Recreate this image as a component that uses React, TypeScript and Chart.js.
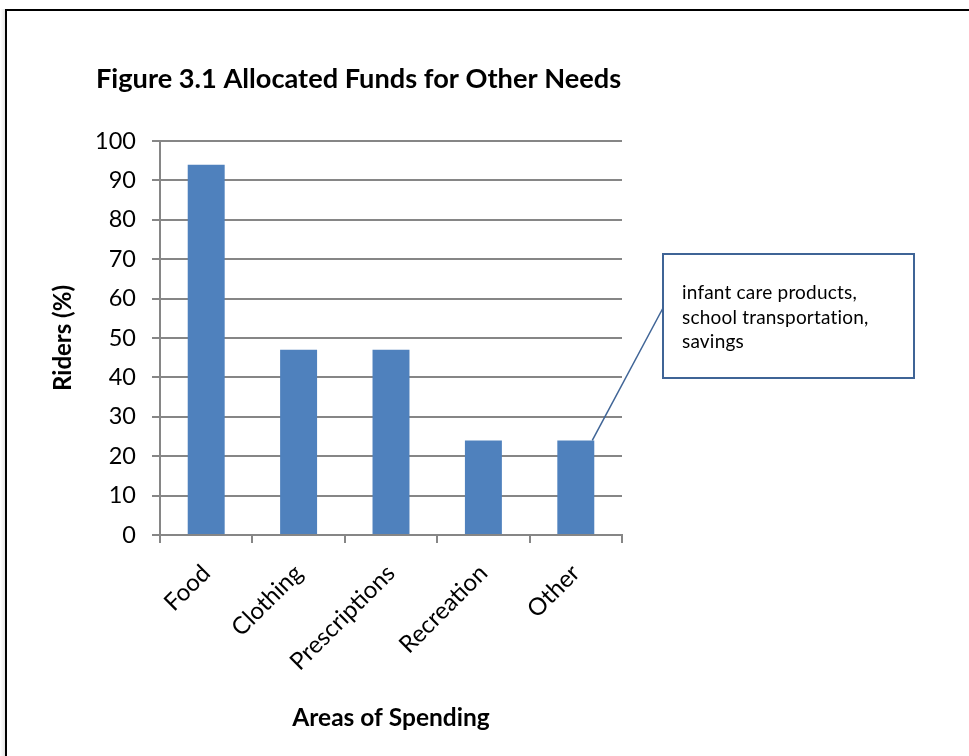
import React, { useEffect, useRef } from "react";
import { Chart, registerables } from "chart.js";

Chart.register(...registerables);

const categories = ["Food", "Clothing", "Prescriptions", "Recreation", "Other"];
const riders = [94, 47, 47, 24, 24];
const yMin = 0;
const yMax = 100;
const yStep = 10;
const chartTitle = "Figure 3.1 Allocated Funds for Other Needs";
const yTitle = "Riders (%)";
const xTitle = "Areas of Spending";
const calloutLines = ["infant care products,", "school transportation,", "savings"];
const calloutIndex = 4;

const FONT = "Lato, 'Open Sans', sans-serif";
const BAR = "#4F81BD";
const GRID = "#868686";
const CALLOUT = "#3F6496";

const W = 969;
const H = 756;

const figurePlugin = {
  id: "figureExtras",
  afterDraw(chart: any) {
    const { ctx, chartArea } = chart;
    ctx.save();
    // title
    ctx.fillStyle = "#000";
    ctx.font = `bold 27.2px ${FONT}`;
    ctx.textAlign = "left";
    ctx.textBaseline = "alphabetic";
    ctx.fillText(chartTitle, chartArea.left - 64, 88);

    // callout box
    const bx = chartArea.right + 41;
    const by = chartArea.top + 113;
    const bw = 251;
    const bh = 124;
    ctx.strokeStyle = CALLOUT;
    ctx.lineWidth = 2;
    ctx.strokeRect(bx, by, bw, bh);

    ctx.fillStyle = "#000";
    ctx.font = `19px ${FONT}`;
    try {
      (ctx as any).letterSpacing = "0.2px";
    } catch (e) {}
    calloutLines.forEach((line, i) => {
      ctx.fillText(line, bx + 19, by + 45 + i * 24.5);
    });
    try {
      (ctx as any).letterSpacing = "0px";
    } catch (e) {}

    // leader line to bar
    const meta = chart.getDatasetMeta(0);
    const bar = meta.data[calloutIndex];
    if (bar) {
      const props = bar.getProps(["x", "y", "width"], true);
      ctx.strokeStyle = CALLOUT;
      ctx.lineWidth = 1.5;
      ctx.beginPath();
      ctx.moveTo(bx, by + 54);
      ctx.lineTo(props.x + props.width / 2 - 2, props.y);
      ctx.stroke();
    }
    ctx.restore();
  },
};

export default function App() {
  const ref = useRef<HTMLCanvasElement | null>(null);

  useEffect(() => {
    if (!ref.current) return;
    const chart = new Chart(ref.current, {
      type: "bar",
      data: {
        labels: categories,
        datasets: [
          {
            label: yTitle,
            data: riders,
            backgroundColor: BAR,
            borderWidth: 0,
            barPercentage: 0.4,
            categoryPercentage: 1,
          },
        ],
      },
      options: {
        responsive: false,
        animation: false,
        devicePixelRatio: 1,
        layout: { padding: { left: 49, right: 347, top: 141, bottom: 23 } },
        plugins: {
          legend: { display: false },
          title: { display: false },
          tooltip: { enabled: false },
        },
        scales: {
          x: {
            afterFit(scale: any) {
              scale.height = H - 23 - 535;
            },
            grid: {
              display: true,
              drawOnChartArea: false,
              drawTicks: true,
              tickLength: 8,
              color: GRID,
              lineWidth: 2,
              offset: true,
            },
            border: { display: true, color: GRID, width: 2 },
            ticks: {
              color: "#000",
              font: { family: FONT, size: 24 },
              minRotation: 45,
              maxRotation: 45,
              padding: 16,
            },
            title: {
              display: true,
              text: xTitle,
              color: "#000",
              font: { family: FONT, size: 24.5, weight: "bold" },
              padding: { top: 0, bottom: 0 },
            },
          },
          y: {
            min: yMin,
            max: yMax,
            afterFit(scale: any) {
              scale.width = 160 - 49;
            },
            grid: {
              color: GRID,
              lineWidth: 2,
              tickLength: 8,
            },
            border: { display: true, color: GRID, width: 2 },
            ticks: {
              stepSize: yStep,
              color: "#000",
              font: { family: FONT, size: 23.5 },
              padding: 16,
            },
            title: {
              display: true,
              text: yTitle,
              color: "#000",
              font: { family: FONT, size: 24, weight: "bold" },
              padding: { top: 0, bottom: 0 },
            },
          },
        },
      },
      plugins: [figurePlugin],
    });
    return () => chart.destroy();
  }, []);

  return (
    <div style={{ position: "fixed", left: 0, top: 0, width: W, height: H, background: "#fff", overflow: "hidden" }}>
      <div
        style={{
          position: "absolute",
          left: 0,
          top: 9,
          width: 5,
          bottom: 0,
          background: "linear-gradient(to right, #ffffff, #e6e6e6)",
        }}
      />
      <div
        style={{
          position: "absolute",
          left: 5,
          top: 9,
          width: W + 20,
          height: H + 20,
          borderLeft: "2px solid #000",
          borderTop: "2px solid #000",
        }}
      />
      <canvas ref={ref} width={W} height={H} style={{ position: "absolute", left: 0, top: 0 }} />
    </div>
  );
}
